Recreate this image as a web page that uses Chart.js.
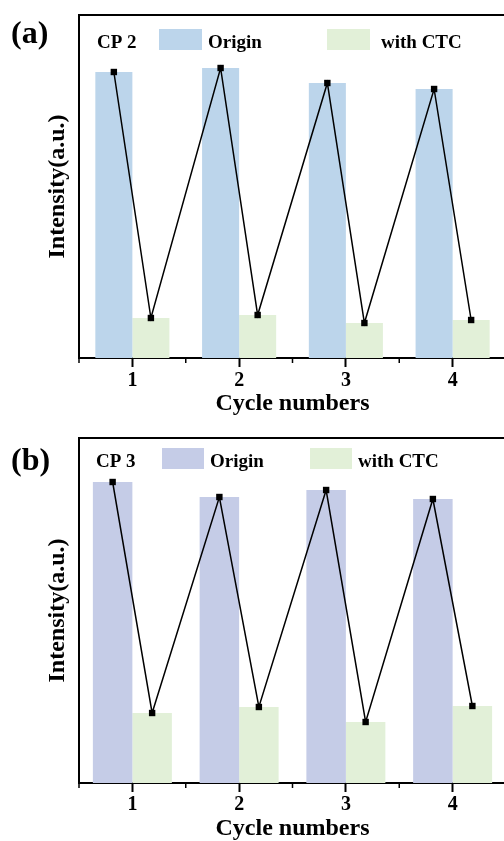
<!DOCTYPE html>
<html><head><meta charset="utf-8">
<script src="https://cdn.jsdelivr.net/npm/chart.js@4"></script>
<style>
html,body{margin:0;padding:0;background:#fff;overflow:hidden;width:504px;height:841px;position:relative;}
.panel{position:absolute;left:0;width:540px;}
#wa{top:0;height:420px;}
#wb{top:420px;height:430px;}
.lab{position:absolute;font-family:"Liberation Serif",serif;font-weight:bold;font-size:32px;line-height:1;color:#000;}
</style></head><body>
<div class="panel" id="wa"><canvas id="ca" width="540" height="420"></canvas></div>
<div class="panel" id="wb"><canvas id="cb" width="540" height="430"></canvas></div>
<div class="lab" style="left:11px;top:16px">(a)</div>
<div class="lab" style="left:11px;top:443px">(b)</div>
<script>
// ---- data ----
const cycles = ['1', '2', '3', '4'];
const originA = [286, 290, 275, 269];
const ctcA = [40, 43, 35, 38];
const originB = [301, 286, 293, 284];
const ctcB = [70, 76, 61, 77];
const seriesNames = ['Origin', 'with CTC'];

const FONT = '"Liberation Serif", "Times New Roman", serif';

const framePlugin = {
  id: 'frame',
  afterDatasetsDraw(chart) {
    // zigzag line joining the tops of the bars (Origin_i -> CTC_i -> Origin_i+1 ...)
    const {ctx} = chart;
    const m0 = chart.getDatasetMeta(0).data, m1 = chart.getDatasetMeta(1).data;
    const pts = [];
    for (let i = 0; i < m0.length; i++) { pts.push(m0[i]); pts.push(m1[i]); }
    ctx.save();
    ctx.strokeStyle = '#000';
    ctx.lineWidth = 1.5;
    ctx.beginPath();
    pts.forEach((p, i) => { if (i === 0) ctx.moveTo(p.x, p.y); else ctx.lineTo(p.x, p.y); });
    ctx.stroke();
    ctx.fillStyle = '#000';
    pts.forEach(p => ctx.fillRect(p.x - 3.2, p.y - 3.2, 6.4, 6.4));
    ctx.restore();
  },
  afterDraw(chart) {
    const {ctx, chartArea: a, scales} = chart;
    const o = chart.options.plugins.frame;
    ctx.save();
    ctx.strokeStyle = '#000';
    ctx.lineWidth = 2;
    // top frame line
    ctx.beginPath();
    ctx.moveTo(a.left - 1, a.top);
    ctx.lineTo(a.right + 1, a.top);
    ctx.stroke();
    // minor ticks at category boundaries
    const xs = scales.x;
    const step = xs.getPixelForValue(1) - xs.getPixelForValue(0);
    ctx.lineWidth = 1.5;
    for (let i = 0; i <= cycles.length; i++) {
      const px = xs.getPixelForValue(0) - step / 2 + i * step;
      ctx.beginPath();
      ctx.moveTo(px, a.bottom);
      ctx.lineTo(px, a.bottom + 5);
      ctx.stroke();
    }
    // legend inside plot area
    ctx.fillStyle = '#000';
    ctx.font = 'bold 19px ' + FONT;
    ctx.textBaseline = 'alphabetic';
    ctx.textAlign = 'left';
    ctx.fillText(o.title, a.left + o.titleX, a.top + o.baseY);
    const ds = chart.data.datasets;
    for (let k = 0; k < 2; k++) {
      ctx.fillStyle = ds[k].backgroundColor;
      ctx.fillRect(a.left + o.boxX[k], a.top + o.boxY, o.boxW, o.boxH);
      ctx.fillStyle = '#000';
      ctx.fillText(ds[k].label, a.left + o.textX[k], a.top + o.baseY);
    }
    ctx.restore();
  }
};

function makeChart(id, origin, ctc, cfg) {
  return new Chart(document.getElementById(id), {
    type: 'bar',
    data: {
      labels: cycles,
      datasets: [
        {label: seriesNames[0], data: origin, backgroundColor: cfg.colO, categoryPercentage: cfg.catPct, barPercentage: 1},
        {label: seriesNames[1], data: ctc, backgroundColor: cfg.colC, categoryPercentage: cfg.catPct, barPercentage: 1}
      ]
    },
    options: {
      responsive: false,
      animation: false,
      devicePixelRatio: 1,
      layout: {padding: {top: cfg.padTop, left: 0, right: 34, bottom: 0}},
      plugins: {
        legend: {display: false},
        tooltip: {enabled: false},
        frame: cfg.legend
      },
      scales: {
        x: {
          type: 'category',
          offset: true,
          afterFit: s => { s.height = cfg.axisH; },
          grid: {display: true, drawOnChartArea: false, drawTicks: true, tickLength: 9, tickWidth: 2, tickColor: '#000', offset: false},
          border: {display: true, width: 2, color: '#000'},
          ticks: {color: '#000', font: {family: FONT, size: 20, weight: 'bold'}, padding: cfg.tickPad, maxRotation: 0},
          title: {display: true, text: 'Cycle numbers', color: '#000', font: {family: FONT, size: 24, weight: 'bold'}, padding: {top: 0, bottom: cfg.titlePad}}
        },
        y: {
          min: 0, max: cfg.yMax,
          afterFit: s => { s.width = 79; },
          grid: {display: false},
          border: {display: true, width: 2, color: '#000'},
          ticks: {display: false},
          title: {display: true, text: 'Intensity(a.u.)', color: '#000', font: {family: FONT, size: 24, weight: 'bold'}, padding: {top: 43, bottom: 0}}
        }
      }
    },
    plugins: [framePlugin]
  });
}

makeChart('ca', originA, ctcA, {
  colO: '#BCD5EB', colC: '#E2F0D8', catPct: 0.694, padTop: 15, axisH: 62, yMax: 343,
  tickPad: 2, titlePad: 2,
  legend: {title: 'CP 2', titleX: 18, baseY: 32.5, boxX: [80, 248], boxY: 14, boxW: 43, boxH: 21, textX: [129, 302]}
});
makeChart('cb', originB, ctcB, {
  colO: '#C5CCE7', colC: '#E2F0D8', catPct: 0.74, padTop: 18, axisH: 67, yMax: 345,
  tickPad: 1, titlePad: 7,
  legend: {title: 'CP 3', titleX: 17, baseY: 29, boxX: [83, 231], boxY: 10, boxW: 42, boxH: 21, textX: [131, 279]}
});
</script>
</body></html>
